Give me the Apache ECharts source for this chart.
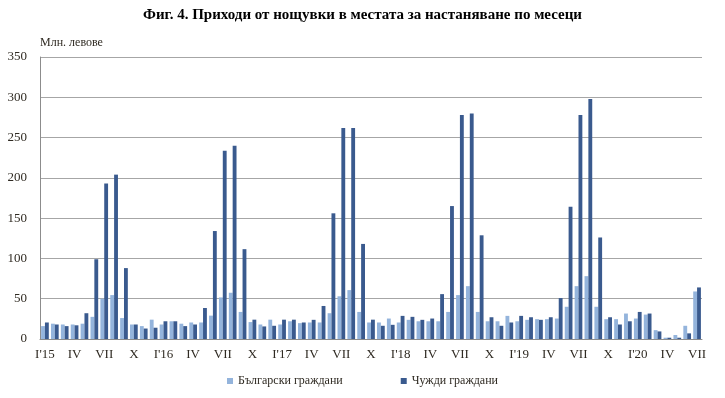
<!DOCTYPE html>
<html>
<head>
<meta charset="utf-8">
<script src="https://cdn.jsdelivr.net/npm/echarts@6/dist/echarts.min.js"></script>
<style>
html, body { margin: 0; padding: 0; background: #fff; }
#chart { width: 725px; height: 398px; }
</style>
</head>
<body>
<div id="chart"></div>
<script>
// месеци I.2015 - VII.2020
var romans = ["I", "II", "III", "IV", "V", "VI", "VII", "VIII", "IX", "X", "XI", "XII"];
var years = ["15", "16", "17", "18", "19", "20"];
var months = [];
for (var y = 0; y < years.length; y++) {
    for (var m = 0; m < 12; m++) {
        if (y == 5 && m > 6) break;
        months.push(m == 0 ? "I'" + years[y] : romans[m]);
    }
}

// Български граждани, млн. лв.
var bulgarians = [
    16, 19, 18, 18, 19, 27.5, 50, 54.5, 26, 18, 16, 24,
    18, 22, 19, 20.5, 20.5, 29, 51.6, 57.4, 33.6, 21, 18, 24,
    18, 22, 19.7, 20.5, 20.5, 32, 53, 60.7, 33.6, 20.5, 20.5, 25.4,
    20.5, 23.8, 22, 22, 22, 33.6, 54.5, 65.6, 33.6, 22, 22, 28.7,
    22, 23.8, 24.6, 24.6, 25.4, 40, 65.6, 78, 40, 24.6, 24.6, 31.6,
    25.4, 30.3, 11, 1.6, 5, 16.4, 59
];

// Чужди граждани, млн. лв.
var foreigners = [
    20.5, 18, 16, 17, 32, 99, 193, 204, 88, 18, 13, 14,
    22, 22, 16, 18, 38.5, 134, 233.6, 240, 111.5, 24, 15.6, 16.4,
    24, 24, 20.5, 23.8, 41, 156, 262, 262, 118, 24, 16.4, 17.6,
    28.7, 27.5, 23.8, 25.4, 55.7, 165, 278, 280, 128.7, 27, 16.4, 20.5,
    28.7, 27, 23.8, 27, 50.8, 164, 278, 298, 126, 27, 18, 22,
    33.6, 31.6, 9.4, 1.6, 1.6, 7, 64
];

var yTicks = { min: 0, max: 350, step: 50 };

var serif = "Liberation Serif, Times New Roman, serif";
var labelColor = "#2f2a22";

var chart = echarts.init(document.getElementById("chart"), null, { renderer: "canvas" });

chart.setOption({
    animation: false,
    backgroundColor: "#fff",
    title: {
        text: "Фиг. 4. Приходи от нощувки в местата за настаняване по месеци",
        left: "center",
        top: 3,
        textStyle: { fontFamily: serif, fontSize: 15, fontWeight: "bold", color: "#000" }
    },
    legend: {
        bottom: 6,
        left: "center",
        icon: "rect",
        itemWidth: 6,
        itemHeight: 6,
        itemGap: 58,
        textStyle: { fontFamily: serif, fontSize: 12, color: labelColor },
        data: ["Български граждани", "Чужди граждани"]
    },
    grid: { left: 40, right: 23, top: 57, bottom: 59 },
    xAxis: {
        type: "category",
        data: months,
        boundaryGap: true,
        axisLine: { lineStyle: { color: "#8c8c8c" } },
        axisTick: { interval: 0, length: 4, lineStyle: { color: "#8c8c8c" } },
        axisLabel: {
            interval: 2,
            margin: 9,
            fontFamily: serif,
            fontSize: 13,
            color: labelColor
        }
    },
    yAxis: {
        type: "value",
        min: yTicks.min,
        max: yTicks.max,
        interval: yTicks.step,
        name: "Млн. левове",
        nameLocation: "end",
        nameGap: 8,
        nameTextStyle: { fontFamily: serif, fontSize: 12, color: labelColor, align: "left" },
        axisLine: { show: true, lineStyle: { color: "#8c8c8c" } },
        axisTick: { show: false },
        splitLine: { lineStyle: { color: "#a6a6a6", width: 1 } },
        axisLabel: { margin: 13, fontFamily: serif, fontSize: 13, color: labelColor }
    },
    series: [
        {
            name: "Български граждани",
            type: "bar",
            data: bulgarians,
            barGap: "0%",
            barCategoryGap: "22%",
            itemStyle: { color: "#94b4dc" }
        },
        {
            name: "Чужди граждани",
            type: "bar",
            data: foreigners,
            itemStyle: { color: "#3a5a8e" }
        }
    ]
});
</script>
</body>
</html>
